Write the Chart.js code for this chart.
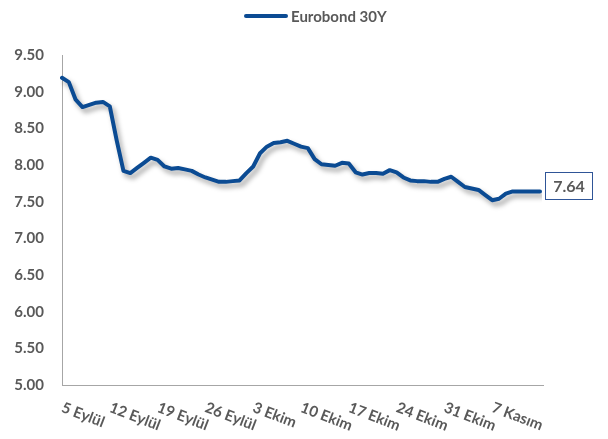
<!DOCTYPE html>
<html>
<head>
<meta charset="utf-8">
<script src="https://cdn.jsdelivr.net/npm/chart.js@4.4.1/dist/chart.umd.min.js"></script>
<style>
  html, body { margin: 0; padding: 0; background: #ffffff; }
  #wrap { width: 608px; height: 439px; position: relative; }
</style>
</head>
<body>
<div id="wrap"><canvas id="c" width="608" height="439"></canvas></div>
<script>
// ---- Data ----
const seriesName = "Eurobond 30Y";
const dates = [
  "5 Eylül","6 Eylül","7 Eylül","8 Eylül","9 Eylül","10 Eylül","11 Eylül","12 Eylül","13 Eylül","14 Eylül",
  "15 Eylül","16 Eylül","17 Eylül","18 Eylül","19 Eylül","20 Eylül","21 Eylül","22 Eylül","23 Eylül","24 Eylül",
  "25 Eylül","26 Eylül","27 Eylül","28 Eylül","29 Eylül","30 Eylül",
  "1 Ekim","2 Ekim","3 Ekim","4 Ekim","5 Ekim","6 Ekim","7 Ekim","8 Ekim","9 Ekim","10 Ekim",
  "11 Ekim","12 Ekim","13 Ekim","14 Ekim","15 Ekim","16 Ekim","17 Ekim","18 Ekim","19 Ekim","20 Ekim",
  "21 Ekim","22 Ekim","23 Ekim","24 Ekim","25 Ekim","26 Ekim","27 Ekim","28 Ekim","29 Ekim","30 Ekim","31 Ekim",
  "1 Kasım","2 Kasım","3 Kasım","4 Kasım","5 Kasım","6 Kasım","7 Kasım","8 Kasım","9 Kasım","10 Kasım",
  "11 Kasım","12 Kasım","13 Kasım","14 Kasım"
];
const values = [
  9.19, 9.13, 8.89, 8.79, 8.82, 8.85, 8.86, 8.80, 8.34, 7.92,
  7.89, 7.96, 8.03, 8.10, 8.07, 7.98, 7.95, 7.96, 7.94, 7.92,
  7.87, 7.83, 7.80, 7.77, 7.77, 7.78, 7.79, 7.89, 7.98, 8.16,
  8.25, 8.30, 8.31, 8.33, 8.29, 8.25, 8.23, 8.08, 8.01, 8.00,
  7.99, 8.03, 8.02, 7.90, 7.87, 7.89, 7.89, 7.88, 7.93, 7.90,
  7.83, 7.79, 7.78, 7.78, 7.77, 7.77, 7.81, 7.84, 7.77, 7.70,
  7.68, 7.66, 7.59, 7.52, 7.54, 7.61, 7.64, 7.64, 7.64, 7.64,
  7.64
];
const xTickLabels = ["5 Eylül","12 Eylül","19 Eylül","26 Eylül","3 Ekim","10 Ekim","17 Ekim","24 Ekim","31 Ekim","7 Kasım"];
const yMin = 5.0, yMax = 9.5, yStep = 0.5;

// ---- Style ----
const lineColor = "#0b4b93";
const textColor = "#595959";
const axisColor = "#a6a6a6";
const fontFam = "Lato, 'Open Sans', 'Liberation Sans', sans-serif";

const shadowPlugin = {
  id: 'lineShadow',
  beforeDatasetsDraw(chart) {
    const ctx = chart.ctx;
    ctx.save();
    ctx.shadowColor = 'rgba(0,0,0,0.35)';
    ctx.shadowBlur = 5;
    ctx.shadowOffsetX = 3;
    ctx.shadowOffsetY = 4;
  },
  afterDatasetsDraw(chart) {
    chart.ctx.restore();
  }
};

const decorPlugin = {
  id: 'decor',
  afterDraw(chart) {
    const ctx = chart.ctx;
    const xs = chart.scales.x;
    const area = chart.chartArea;

    // Extend the bottom axis line a little past the last point, as in the reference
    ctx.save();
    ctx.strokeStyle = axisColor;
    ctx.lineWidth = 1;
    ctx.beginPath();
    ctx.moveTo(area.right, Math.round(area.bottom) + 0.5);
    ctx.lineTo(area.right + 4, Math.round(area.bottom) + 0.5);
    ctx.stroke();
    ctx.restore();

    // Legend
    ctx.save();
    ctx.strokeStyle = lineColor;
    ctx.lineWidth = 4;
    ctx.lineCap = 'round';
    ctx.beginPath();
    ctx.moveTo(246, 16);
    ctx.lineTo(286, 16);
    ctx.stroke();
    ctx.fillStyle = textColor;
    ctx.font = "bold 15px " + fontFam;
    ctx.textAlign = 'left';
    ctx.textBaseline = 'middle';
    ctx.fillText(seriesName, 291, 17);
    ctx.restore();

    // Rotated x tick labels
    ctx.save();
    ctx.fillStyle = textColor;
    ctx.font = "bold 15px " + fontFam;
    ctx.textAlign = 'left';
    ctx.textBaseline = 'top';
    xTickLabels.forEach(lbl => {
      const idx = dates.indexOf(lbl);
      if (idx < 0) return;
      const px = xs.getPixelForValue(idx);
      ctx.save();
      ctx.translate(px + 3, area.bottom + 15);
      ctx.rotate(21 * Math.PI / 180);
      ctx.fillText(lbl, 0, 0);
      ctx.restore();
    });
    ctx.restore();

    // End value label
    const meta = chart.getDatasetMeta(0);
    const last = meta.data[meta.data.length - 1];
    const val = values[values.length - 1];
    ctx.save();
    ctx.font = "bold 16px " + fontFam;
    const txt = val.toFixed(2);
    const bw = 47, bh = 27;
    const bx = last.x + 5, by = last.y - 6 - bh / 2;
    ctx.fillStyle = '#ffffff';
    ctx.fillRect(bx, by, bw, bh);
    ctx.strokeStyle = '#2f5597';
    ctx.lineWidth = 1;
    ctx.strokeRect(Math.round(bx) + 0.5, Math.round(by) + 0.5, bw, bh);
    ctx.fillStyle = textColor;
    ctx.textAlign = 'center';
    ctx.textBaseline = 'middle';
    ctx.fillText(txt, bx + bw / 2 + 0.5, by + bh / 2 + 1);
    ctx.restore();
  }
};

new Chart(document.getElementById('c'), {
  type: 'line',
  data: {
    labels: dates,
    datasets: [{
      label: seriesName,
      data: values,
      borderColor: lineColor,
      backgroundColor: lineColor,
      borderWidth: 4,
      pointRadius: 0,
      pointHoverRadius: 0,
      tension: 0,
      borderJoinStyle: 'round',
      borderCapStyle: 'round',
      fill: false
    }]
  },
  options: {
    responsive: false,
    animation: false,
    events: [],
    layout: { padding: { left: 0, right: 68, top: 55, bottom: 54 } },
    plugins: {
      legend: { display: false },
      tooltip: { enabled: false }
    },
    scales: {
      x: {
        type: 'category',
        offset: false,
        grid: { display: false, drawTicks: false },
        border: { display: true, color: axisColor, width: 1 },
        ticks: { display: false },
        afterFit(scale) { scale.height = 0; }
      },
      y: {
        min: yMin,
        max: yMax,
        grid: { display: false, drawTicks: false },
        border: { display: true, color: axisColor, width: 1 },
        ticks: {
          stepSize: yStep,
          padding: 18,
          color: textColor,
          font: { family: fontFam, size: 15, weight: 'bold' },
          callback: v => Number(v).toFixed(2)
        },
        afterFit(scale) { scale.width = 62; }
      }
    }
  },
  plugins: [shadowPlugin, decorPlugin]
});
</script>
</body>
</html>
